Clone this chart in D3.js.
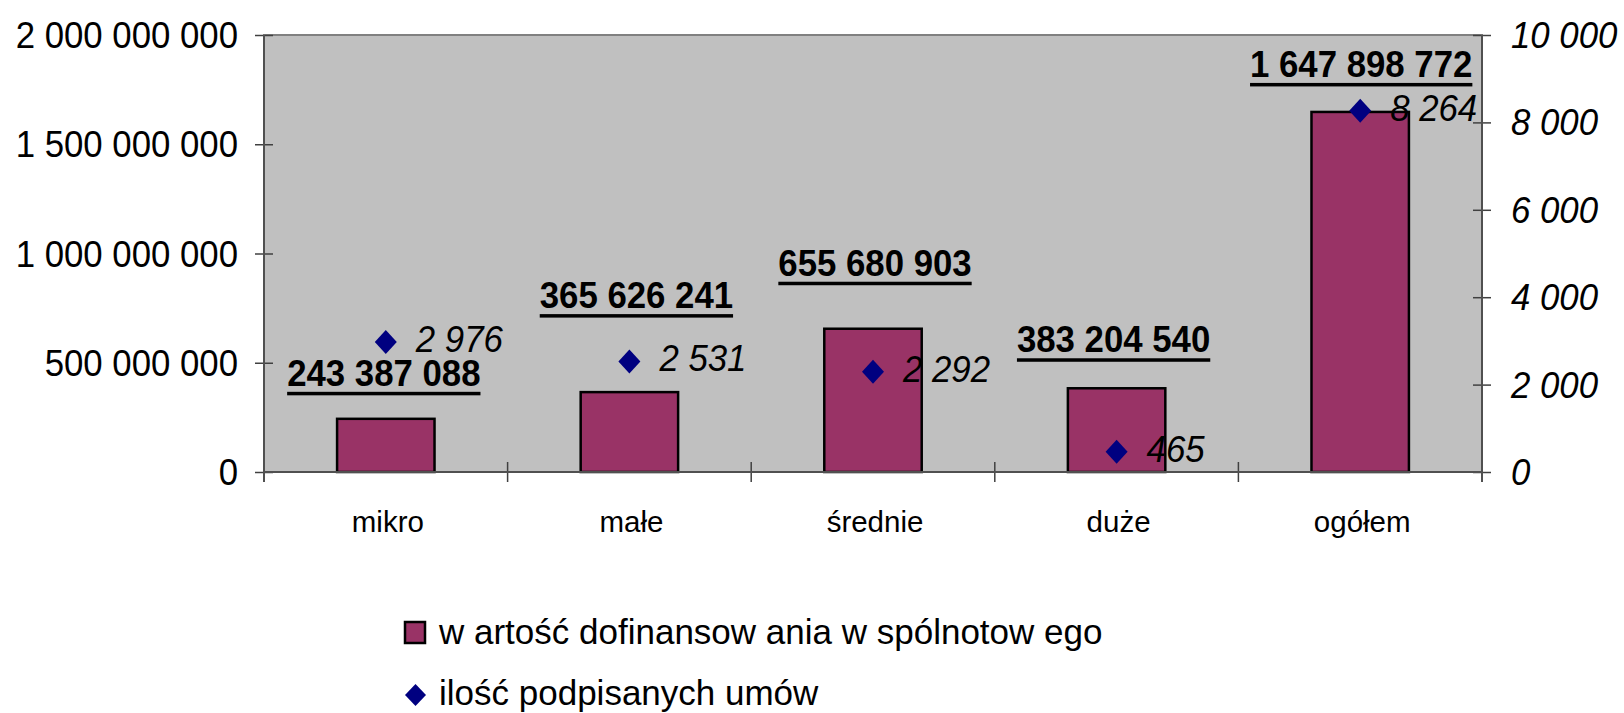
<!DOCTYPE html>
<html><head><meta charset="utf-8">
<script src="https://cdn.jsdelivr.net/npm/d3@7"></script>
<style>body{margin:0;background:#fff}svg{display:block}text{font-family:"Liberation Sans",Arial,sans-serif}</style>
</head><body><svg id="c" width="1624" height="713"></svg>
<script>
// ---- data ----
const categories = ["mikro", "małe", "średnie", "duże", "ogółem"];
const fundingValues = [243387088, 365626241, 655680903, 383204540, 1647898772];
const contractCounts = [2976, 2531, 2292, 465, 8264];
const leftTicks = [0, 500000000, 1000000000, 1500000000, 2000000000];
const rightTicks = [0, 2000, 4000, 6000, 8000, 10000];
const seriesNames = ["w artość dofinansow ania w spólnotow ego", "ilość podpisanych umów"];

// ---- layout (not data) ----
const labelLift = [33, 84, 53, 36, 35];  // px above bar top for the bold value labels
const labelShift = [-2, 7, 2, -3, 1];    // px horizontal nudge of the bold value labels
const plot = {l: 264, r: 1482, t: 35, b: 472};
const SX = 0.94;
const BAR = "#993366", DIA = "#000080";

const svg = d3.select("#c");
const loc = d3.formatLocale({decimal: ",", thousands: " ", grouping: [3], currency: ["", ""]});
const fmt = loc.format(",d");

const x = d3.scaleBand().domain(categories).range([plot.l, plot.r]).padding(0);
const yL = d3.scaleLinear().domain([0, 2000000000]).range([plot.b, plot.t]);
const yR = d3.scaleLinear().domain([0, 10000]).range([plot.b, plot.t]);

function ctext(g, tx, ty, str, opts) {
  const gg = g.append("g").attr("transform", `translate(${tx},${ty}) scale(${opts.sx || 1},1)`);
  return gg.append("text").attr("text-anchor", opts.anchor || "start")
    .attr("font-size", opts.size).attr("font-weight", opts.weight || "normal")
    .attr("font-style", opts.style || "normal").attr("fill", "#000").text(str);
}

// plot area
svg.append("rect").attr("x", plot.l).attr("y", plot.t).attr("width", plot.r - plot.l).attr("height", plot.b - plot.t)
  .attr("fill", "#C0C0C0").attr("stroke", "#808080").attr("stroke-width", 2);

// bars
const bw = x.bandwidth() * 0.4;
svg.append("g").selectAll("rect").data(categories).join("rect")
  .attr("x", d => x(d) + x.bandwidth() / 2 - bw / 2)
  .attr("y", (d, i) => yL(fundingValues[i]))
  .attr("width", bw)
  .attr("height", (d, i) => plot.b - yL(fundingValues[i]))
  .attr("fill", BAR).attr("stroke", "#000").attr("stroke-width", 2.5);

// axes lines + ticks (cross ticks)
const axG = svg.append("g");
const tickLen = 9;
axG.append("g").attr("transform", `translate(${plot.l + tickLen},0)`)
  .call(d3.axisLeft(yL).tickValues(leftTicks).tickSize(tickLen * 2).tickFormat(""))
  .call(g => g.select(".domain").remove())
  .selectAll("line").attr("stroke", "#404040").attr("stroke-width", 1.5);
axG.append("g").attr("transform", `translate(${plot.r - tickLen},0)`)
  .call(d3.axisRight(yR).tickValues(rightTicks).tickSize(tickLen * 2).tickFormat(""))
  .call(g => g.select(".domain").remove())
  .selectAll("line").attr("stroke", "#404040").attr("stroke-width", 1.5);
const bounds = categories.map(c => x(c)).concat([plot.r]);
axG.append("g").selectAll("line").data(bounds).join("line")
  .attr("x1", d => d).attr("x2", d => d).attr("y1", plot.b - 10).attr("y2", plot.b + 10)
  .attr("stroke", "#404040").attr("stroke-width", 1.5);
axG.append("line").attr("x1", plot.l).attr("x2", plot.l).attr("y1", plot.t).attr("y2", plot.b + 10).attr("stroke", "#505050").attr("stroke-width", 2);
axG.append("line").attr("x1", plot.r).attr("x2", plot.r).attr("y1", plot.t).attr("y2", plot.b + 10).attr("stroke", "#505050").attr("stroke-width", 2);
axG.append("line").attr("x1", plot.l).attr("x2", plot.r).attr("y1", plot.b).attr("y2", plot.b).attr("stroke", "#505050").attr("stroke-width", 2);

// tick labels
const tl = svg.append("g");
leftTicks.forEach(v => ctext(tl, 238, yL(v) + 13, fmt(v), {size: 37, sx: SX, anchor: "end"}));
rightTicks.forEach(v => ctext(tl, 1511, yR(v) + 13, fmt(v), {size: 37, sx: SX, style: "italic"}));
categories.forEach(c => ctext(tl, x(c) + x.bandwidth() / 2 + 2, 532, c, {size: 29.5, anchor: "middle"}));

// bar value labels (bold, underlined)
const bl = svg.append("g");
categories.forEach((c, i) => {
  const cx = x(c) + x.bandwidth() / 2 + labelShift[i];
  const by = yL(fundingValues[i]) - labelLift[i];
  const t = ctext(bl, cx, by, fmt(fundingValues[i]), {size: 37, sx: SX, weight: "bold", anchor: "middle"});
  const w = t.node().getComputedTextLength() * SX;
  bl.append("rect").attr("x", cx - w / 2).attr("y", by + 6).attr("width", w).attr("height", 3.5).attr("fill", "#000");
});

// diamonds
const diamond = (w, h) => `M0,${-h}L${w},0L0,${h}L${-w},0Z`;
const dg = svg.append("g");
categories.forEach((c, i) => {
  const cx = x(c) + x.bandwidth() / 2, cy = yR(contractCounts[i]);
  dg.append("path").attr("d", diamond(11, 12)).attr("transform", `translate(${cx},${cy})`).attr("fill", DIA);
  ctext(dg, cx + 30, cy + 10, fmt(contractCounts[i]), {size: 37, sx: SX, style: "italic"});
});

// legend
const lg = svg.append("g");
lg.append("rect").attr("x", 405).attr("y", 622).attr("width", 20).attr("height", 21)
  .attr("fill", BAR).attr("stroke", "#000").attr("stroke-width", 2.5);
ctext(lg, 439, 644, seriesNames[0], {size: 35});
lg.append("path").attr("d", diamond(10.5, 11)).attr("transform", "translate(415.5,695)").attr("fill", DIA);
ctext(lg, 439, 705, seriesNames[1], {size: 35});
</script></body></html>
